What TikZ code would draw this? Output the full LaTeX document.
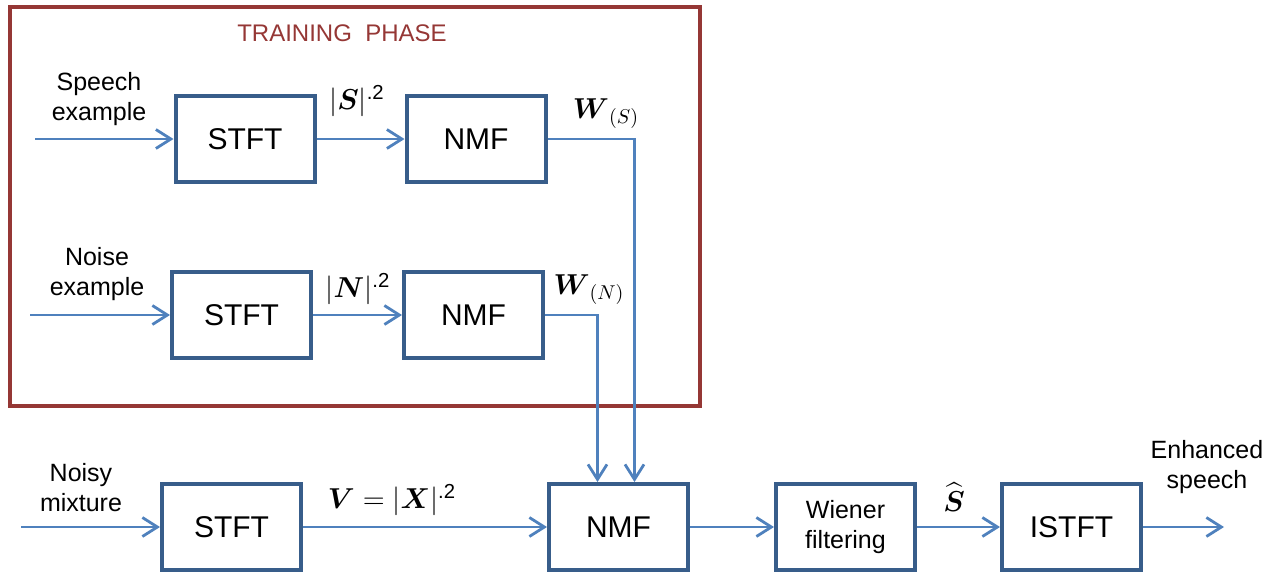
\documentclass[tikz,border=0pt]{standalone}
\usepackage{amsmath}
\usepackage{fontspec}
\setmainfont{Liberation Sans}
\usetikzlibrary{arrows.meta,positioning}
\definecolor{boxblue}{RGB}{56,93,138}
\definecolor{lineblue}{RGB}{79,129,189}
\definecolor{phasered}{RGB}{149,55,53}

\begin{document}
\begin{tikzpicture}[
    x=0.5pt, y=-0.5pt,
    >={Straight Barb[length=7.5pt,width=9.5pt]},
    box/.style={draw=boxblue, line width=2pt, minimum width=69.5pt, minimum height=43pt, inner sep=2pt, font=\fontsize{15}{17}\selectfont},
    smallbox/.style={box, align=center, font=\fontsize{12.5}{15}\selectfont},
    lbl/.style={inner sep=0pt, align=center, font=\fontsize{12.5}{15}\selectfont},
    sym/.style={inner sep=0pt, font=\fontsize{14.5}{16}\selectfont},
    arr/.style={->, draw=lineblue, line width=1.4pt}
  ]
    \useasboundingbox (0,0) rectangle (1279,579);
    % training phase frame
    \node[draw=phasered, line width=2pt, minimum width=345pt, minimum height=199.5pt] (phase) at (355,206.5) {};
    \node[lbl, text=phasered, font=\fontsize{12}{14}\selectfont] (phaseTitle) at (342,33) {TRAINING\ \ PHASE};
    % speech branch
    \node[box] (stftA) at (245,139) {STFT};
    \node[box, right=44pt of stftA] (nmfA) {NMF};
    \coordinate (spStart) at (35,139);
    \node[lbl] (spText) at (99,99) {Speech\\example};
    \node[sym] (magS) at (357,101) {$|\boldsymbol{S}|^{\text{.2}}$};
    \node[sym] (wS) at (606,114) {$\boldsymbol{W}_{(S)}$};
    % noise branch
    \node[box] (stftB) at (241.5,315) {STFT};
    \node[box, right=44.5pt of stftB] (nmfB) {NMF};
    \coordinate (noStart) at (30,315);
    \node[lbl] (noText) at (97,274) {Noise\\example};
    \node[sym] (magN) at (358,289) {$|\boldsymbol{N}|^{\text{.2}}$};
    \node[sym] (wN) at (589,290) {$\boldsymbol{W}_{(N)}$};
    % separation stage
    \node[box] (stftC) at (231.5,527) {STFT};
    \node[box, right=122pt of stftC] (nmfC) {NMF};
    \node[smallbox, right=42pt of nmfC] (wiener) {Wiener\\filtering};
    \node[box, right=41.5pt of wiener] (istft) {ISTFT};
    \coordinate (nmStart) at (21,527);
    \coordinate[right=40.5pt of istft] (outEnd);
    \node[lbl] (nmText) at (81,488) {Noisy\\mixture};
    \node[sym] (magX) at (392,500) {$\boldsymbol{V} = |\boldsymbol{X}|^{\text{.2}}$};
    \node[sym] (sHat) at (954,497) {$\widehat{\boldsymbol{S}}$};
    \node[lbl] (outText) at (1207,467) {Enhanced\\speech};
    \draw[arr] (spStart) -- (stftA);
    \draw[arr] (stftA) -- (nmfA);
    \draw[arr] (nmfA.east) -| ([xshift=8pt]nmfC.north);
    \draw[arr] (noStart) -- (stftB);
    \draw[arr] (stftB) -- (nmfB);
    \draw[arr] (nmfB.east) -| ([xshift=-10.5pt]nmfC.north);
    \draw[arr] (nmStart) -- (stftC);
    \draw[arr] (stftC) -- (nmfC);
    \draw[arr] (nmfC) -- (wiener);
    \draw[arr] (wiener) -- (istft);
    \draw[arr] (istft) -- (outEnd);
  \end{tikzpicture}
\end{document}
